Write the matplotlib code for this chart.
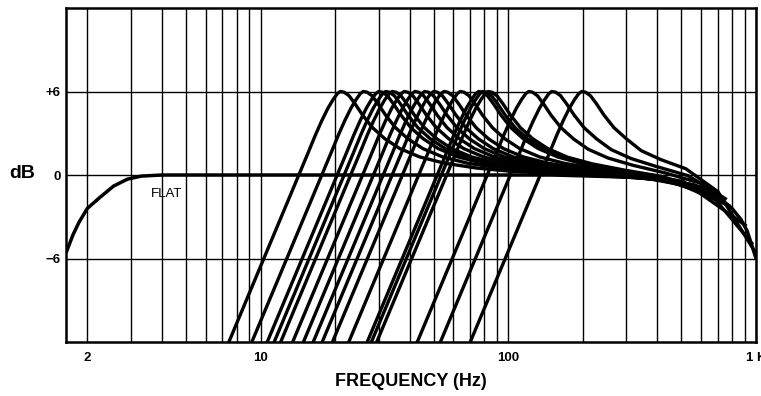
import numpy as np
import matplotlib.pyplot as plt

plt.rcParams['font.family'] = ['Liberation Sans', 'DejaVu Sans']

# flat response (Hz, dB)
flat_hz = [1.64, 1.75, 1.85, 2.0, 2.25, 2.55, 2.9, 3.3, 4.0, 150, 300, 420, 480,
           560, 600, 680, 730, 800, 870, 920, 960, 1000]
flat_db = [-5.6, -4.3, -3.4, -2.4, -1.6, -0.8, -0.3, -0.08, 0.0, 0.0, -0.15, -0.35, -0.5,
           -0.7, -0.9, -1.4, -1.8, -2.4, -3.2, -4.0, -5.0, -6.0]

# boosted curves: frequency of the +6 dB peak
peak_hz = [21, 26, 30, 32, 34, 38, 42, 46, 50, 55, 64, 76, 79, 83, 121, 150, 198]

# rise and peak, same for every curve (decades from peak, dB)
shape_dec = [-0.45, -0.13, -0.10, -0.075, -0.05, -0.03, -0.012, 0.0,
             0.015, 0.035, 0.06, 0.09, 0.13, 0.18]
shape_db = [-12.0, 1.6, 2.9, 3.9, 4.8, 5.4, 5.85, 6.0,
            5.95, 5.7, 5.1, 4.3, 3.4, 2.6]

# tails, one row per curve (decades from peak)
tail_dec = [0.24, 0.32, 0.42, 0.55, 0.70, 0.90, 1.15]
tail_db = [
    [1.9, 1.3, 0.85, 0.5, 0.25, 0.08, -0.15],
    [1.9, 1.3, 0.85, 0.5, 0.25, 0.05, -0.25],
    [1.9, 1.3, 0.85, 0.5, 0.25, 0.03, -0.35],
    [1.9, 1.3, 0.85, 0.5, 0.25, 0.02, -0.42],
    [1.9, 1.3, 0.85, 0.5, 0.24, 0.0, -0.5],
    [1.9, 1.3, 0.85, 0.5, 0.2, -0.05, -0.65],
    [1.9, 1.3, 0.85, 0.5, 0.2, -0.12, -0.95],
    [1.9, 1.3, 0.85, 0.49, 0.18, -0.15, -1.2],
    [1.9, 1.3, 0.85, 0.49, 0.16, -0.2, -1.6],
    [1.9, 1.3, 0.85, 0.47, 0.13, -0.27, -2.2],
    [1.9, 1.3, 0.84, 0.43, 0.08, -0.46, -3.6],
    [1.9, 1.29, 0.8, 0.38, -0.05, -0.9, np.nan],
    [1.9, 1.29, 0.8, 0.37, -0.07, -1.0, np.nan],
    [1.9, 1.28, 0.8, 0.35, -0.1, -1.15, np.nan],
    [1.85, 1.22, 0.7, 0.15, -0.62, -4.9, np.nan],
    [1.82, 1.18, 0.62, -0.05, -1.7, np.nan, np.nan],
    [1.75, 1.1, 0.45, -1.2, -5.55, np.nan, np.nan],
]

fig = plt.figure(figsize=(7.61, 3.96), dpi=100)
ax = fig.add_axes([66 / 761, 54 / 396, 690 / 761, 334 / 396])

ax.plot(flat_hz, flat_db, color='black', lw=2.5, solid_capstyle='butt')
for pk, tail in zip(peak_hz, tail_db):
    dec = np.array(shape_dec + tail_dec)
    db = np.array(shape_db + tail)
    ax.plot(pk * 10 ** dec, db, color='black', lw=2.4, solid_joinstyle='round')

ax.set_xscale('log')
ax.set_xlim(1.64, 1000)
ax.set_ylim(-12, 12)

major = [2, 10, 100, 1000]
minor = [3, 4, 5, 6, 7, 8, 9, 20, 30, 40, 50, 60, 70, 80, 90,
         200, 300, 400, 500, 600, 700, 800, 900]
ax.set_xticks(major, ['2', '10', '100', '1 K'])
ax.set_xticks(minor, [], minor=True)
ax.set_yticks([6, 0, -6], ['+6', '0', '\u22126'])
ax.tick_params(which='both', length=0)
ax.tick_params(axis='x', pad=7, labelsize=9.5)
ax.tick_params(axis='y', pad=4, labelsize=9.5)
for lbl in ax.get_xticklabels() + ax.get_yticklabels():
    lbl.set_fontweight('bold')

ax.grid(True, which='both', axis='x', color='black', lw=1.0)
ax.grid(True, which='major', axis='y', color='black', lw=1.0)
for sp in ax.spines.values():
    sp.set_linewidth(1.8)

ax.text(3.6, -1.4, 'FLAT', fontsize=9.5, va='center', ha='left')
fig.text(22 / 761, 1 - 173 / 396, 'dB', fontsize=14, fontweight='bold',
         ha='center', va='center')
ax.set_xlabel('FREQUENCY (Hz)', fontsize=13, fontweight='bold', labelpad=7)

fig.savefig('out.png', dpi=100)
